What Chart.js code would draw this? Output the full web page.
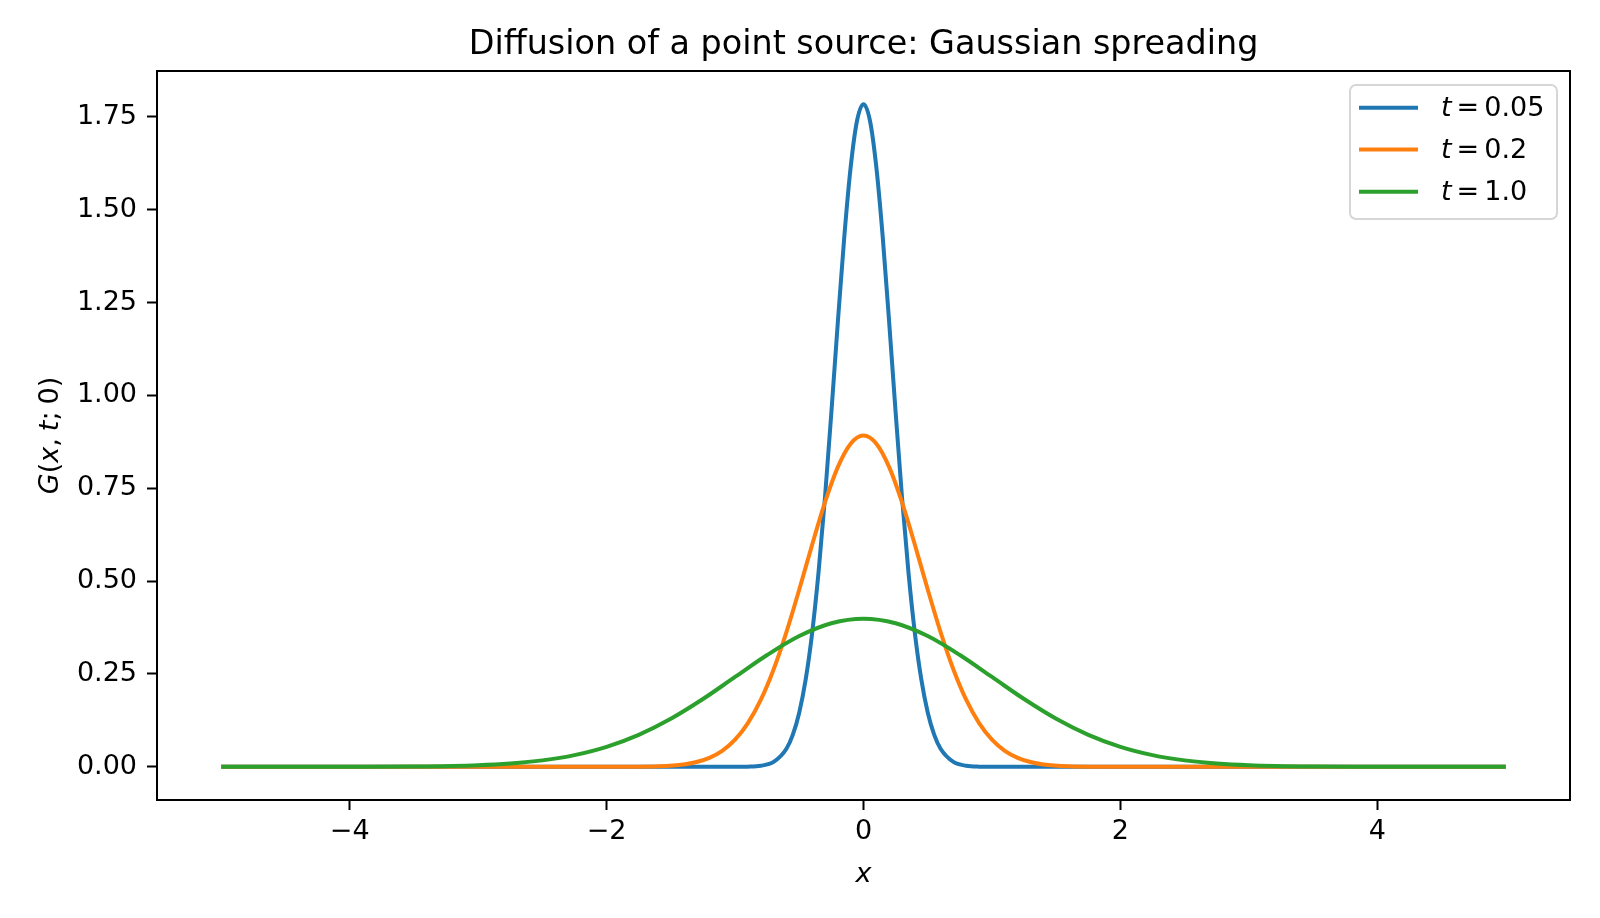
<!DOCTYPE html>
<html>
<head>
<meta charset="utf-8">
<script src="https://cdn.jsdelivr.net/npm/chart.js@4.4.1/dist/chart.umd.min.js"></script>
<style>
  html, body { margin: 0; padding: 0; background: #ffffff; }
  #wrap { width: 1600px; height: 918px; }
</style>
</head>
<body>
<div id="wrap"><canvas id="c" width="1600" height="918"></canvas></div>
<script>
// ---- Data ----
const seriesLabels = ["0.05", "0.2", "1.0"];
const seriesColors = ["#1f77b4", "#ff7f0e", "#2ca02c"];

const xBlue = [-5, -2, -1.5, -1.2, -1.0, -0.9, -0.8, -0.7, -0.6, -0.55, -0.5, -0.45, -0.4, -0.35, -0.3, -0.25, -0.2, -0.15, -0.1, -0.05, 0,
               0.05, 0.1, 0.15, 0.2, 0.25, 0.3, 0.35, 0.4, 0.45, 0.5, 0.55, 0.6, 0.7, 0.8, 0.9, 1.0, 1.2, 1.5, 2, 5];
const yBlue = [0, 0, 0, 0, 0.0001, 0.0005, 0.0030, 0.0133, 0.0487, 0.0866, 0.1465, 0.2355, 0.360, 0.524, 0.725, 0.955, 1.196, 1.425, 1.614, 1.740, 1.784,
               1.740, 1.614, 1.425, 1.196, 0.955, 0.725, 0.524, 0.360, 0.2355, 0.1465, 0.0866, 0.0487, 0.0133, 0.0030, 0.0005, 0.0001, 0, 0, 0, 0];

const xOrange = [-5, -3, -2.5, -2.0, -1.8, -1.6, -1.4, -1.3, -1.2, -1.1, -1.0, -0.9, -0.8, -0.7, -0.6, -0.5, -0.4, -0.3, -0.2, -0.1, 0,
                 0.1, 0.2, 0.3, 0.4, 0.5, 0.6, 0.7, 0.8, 0.9, 1.0, 1.1, 1.2, 1.3, 1.4, 1.6, 1.8, 2.0, 2.5, 3, 5];
const yOrange = [0, 0, 0, 0.00004, 0.00027, 0.0015, 0.0066, 0.0131, 0.0244, 0.0433, 0.0732, 0.1178, 0.1801, 0.2621, 0.3627, 0.4775, 0.598, 0.712, 0.807, 0.870, 0.892,
                 0.870, 0.807, 0.712, 0.598, 0.4775, 0.3627, 0.2621, 0.1801, 0.1178, 0.0732, 0.0433, 0.0244, 0.0131, 0.0066, 0.0015, 0.00027, 0.00004, 0, 0, 0];

const xGreen = [-5, -4.5, -4, -3.5, -3, -2.75, -2.5, -2.25, -2, -1.75, -1.5, -1.25, -1, -0.75, -0.5, -0.25, 0,
                0.25, 0.5, 0.75, 1, 1.25, 1.5, 1.75, 2, 2.25, 2.5, 2.75, 3, 3.5, 4, 4.5, 5];
const yGreen = [0.0000015, 0.000016, 0.000134, 0.00087, 0.00443, 0.0091, 0.0175, 0.0317, 0.0540, 0.0863, 0.1295, 0.1826, 0.2420, 0.3011, 0.3521, 0.3867, 0.3989,
                0.3867, 0.3521, 0.3011, 0.2420, 0.1826, 0.1295, 0.0863, 0.0540, 0.0317, 0.0175, 0.0091, 0.00443, 0.00087, 0.000134, 0.000016, 0.0000015];

const xTicks = [-4, -2, 0, 2, 4];
const xTickLabels = ["\u22124", "\u22122", "0", "2", "4"];
const yTicks = [0, 0.25, 0.5, 0.75, 1.0, 1.25, 1.5, 1.75];
const yTickLabels = ["0.00", "0.25", "0.50", "0.75", "1.00", "1.25", "1.50", "1.75"];

const titleText = "Diffusion of a point source: Gaussian spreading";

// ---- Build datasets ----
function pts(xs, ys) { return xs.map((x, i) => ({ x: x, y: ys[i] })); }
const xsAll = [xBlue, xOrange, xGreen];
const ysAll = [yBlue, yOrange, yGreen];

const datasets = seriesLabels.map((lab, i) => ({
  label: "t = " + lab,
  data: pts(xsAll[i], ysAll[i]),
  borderColor: seriesColors[i],
  backgroundColor: seriesColors[i],
  borderWidth: 4,
  pointRadius: 0,
  fill: false,
  cubicInterpolationMode: 'monotone',
  order: seriesLabels.length - i
}));

const FONT = "'DejaVu Sans', 'Liberation Sans', sans-serif";
const TICK_PX = 27;

function drawParts(ctx, parts, size) {
  let w = 0;
  parts.forEach(p => {
    ctx.font = (p.it ? "italic " : "") + size + "px " + FONT;
    w += (p.pre || 0) + ctx.measureText(p.t).width;
  });
  return w;
}
function renderParts(ctx, parts, size, x, y) {
  let cx = x;
  parts.forEach(p => {
    ctx.font = (p.it ? "italic " : "") + size + "px " + FONT;
    cx += (p.pre || 0);
    ctx.fillText(p.t, cx, y);
    cx += ctx.measureText(p.t).width;
  });
}

const decorPlugin = {
  id: 'decor',
  afterDraw(chart) {
    const ctx = chart.ctx;
    const a = chart.chartArea;
    ctx.save();
    ctx.strokeStyle = "#000000";
    ctx.lineWidth = 2;
    ctx.strokeRect(a.left, a.top, a.right - a.left, a.bottom - a.top);

    ctx.fillStyle = "#000000";
    ctx.textBaseline = "alphabetic";
    ctx.font = "33.4px " + FONT;
    ctx.textAlign = "center";
    ctx.fillText(titleText, (a.left + a.right) / 2, 54);

    ctx.font = "italic " + TICK_PX + "px " + FONT;
    ctx.fillText("x", (a.left + a.right) / 2, 882);

    ctx.textAlign = "left";
    const yParts = [
      { t: "G", it: true }, { t: "(", it: false }, { t: "x", it: true }, { t: ",", it: false },
      { t: "t", it: true, pre: 7 }, { t: ";", it: false }, { t: "0", it: false, pre: 7 }, { t: ")", it: false }
    ];
    const yw = drawParts(ctx, yParts, TICK_PX);
    ctx.save();
    ctx.translate(58, (a.top + a.bottom) / 2);
    ctx.rotate(-Math.PI / 2);
    renderParts(ctx, yParts, TICK_PX, -yw / 2, 0);
    ctx.restore();

    const lx = 1350, ly = 85, lw = 207, lh = 134, r = 6;
    ctx.beginPath();
    ctx.moveTo(lx + r, ly);
    ctx.arcTo(lx + lw, ly, lx + lw, ly + lh, r);
    ctx.arcTo(lx + lw, ly + lh, lx, ly + lh, r);
    ctx.arcTo(lx, ly + lh, lx, ly, r);
    ctx.arcTo(lx, ly, lx + lw, ly, r);
    ctx.closePath();
    ctx.fillStyle = "rgba(255,255,255,0.8)";
    ctx.fill();
    ctx.strokeStyle = "#d6d6d6";
    ctx.lineWidth = 2;
    ctx.stroke();

    const rows = [107.7, 149.5, 191.7];
    chart.data.datasets.forEach((ds, i) => {
      const yy = rows[i];
      ctx.strokeStyle = ds.borderColor;
      ctx.lineWidth = 4;
      ctx.beginPath();
      ctx.moveTo(1359, yy);
      ctx.lineTo(1418, yy);
      ctx.stroke();
      ctx.fillStyle = "#000000";
      ctx.textBaseline = "middle";
      renderParts(ctx, [
        { t: "t", it: true },
        { t: "=", it: false, pre: 5 },
        { t: seriesLabels[i], it: false, pre: 5 }
      ], TICK_PX, 1441, yy + 1);
    });
    ctx.restore();
  }
};

new Chart(document.getElementById('c'), {
  type: 'line',
  data: { datasets: datasets },
  plugins: [decorPlugin],
  options: {
    responsive: false,
    animation: false,
    events: [],
    layout: { padding: { left: 0, top: 71, right: 30, bottom: 0 } },
    plugins: {
      legend: { display: false },
      title: { display: false },
      tooltip: { enabled: false }
    },
    scales: {
      x: {
        type: 'linear',
        min: -5.5,
        max: 5.5,
        afterFit(scale) { scale.height = 118; },
        afterBuildTicks(scale) { scale.ticks = xTicks.map(v => ({ value: v })); },
        ticks: {
          autoSkip: false,
          maxRotation: 0,
          padding: 6,
          color: "#000000",
          font: { family: FONT, size: TICK_PX },
          callback: (v) => { const k = xTicks.indexOf(v); return k >= 0 ? xTickLabels[k] : ""; }
        },
        grid: {
          display: true,
          drawOnChartArea: false,
          drawTicks: true,
          tickLength: 10,
          tickWidth: 2,
          tickColor: "#000000",
          color: "#000000"
        },
        border: { display: false }
      },
      y: {
        type: 'linear',
        min: -0.0892,
        max: 1.8733,
        afterFit(scale) { scale.width = 157; },
        afterBuildTicks(scale) { scale.ticks = yTicks.map(v => ({ value: v })); },
        ticks: {
          autoSkip: false,
          padding: 10,
          color: "#000000",
          font: { family: FONT, size: TICK_PX },
          callback: (v) => { const k = yTicks.findIndex(t => Math.abs(t - v) < 1e-9); return k >= 0 ? yTickLabels[k] : ""; }
        },
        grid: {
          display: true,
          drawOnChartArea: false,
          drawTicks: true,
          tickLength: 10,
          tickWidth: 2,
          tickColor: "#000000",
          color: "#000000"
        },
        border: { display: false }
      }
    }
  }
});
</script>
</body>
</html>
